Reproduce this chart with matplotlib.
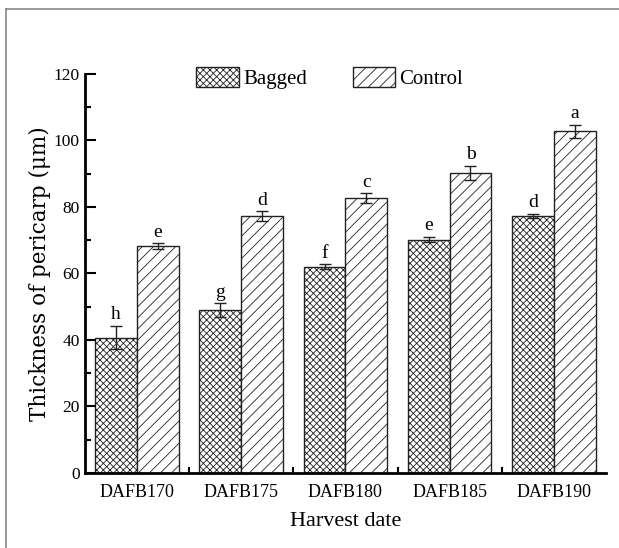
import numpy as np
import matplotlib.pyplot as plt
from matplotlib.lines import Line2D

plt.rcParams['font.family'] = ['Liberation Serif', 'DejaVu Serif']
plt.rcParams['hatch.linewidth'] = 0.6

dates = ['DAFB170', 'DAFB175', 'DAFB180', 'DAFB185', 'DAFB190']
bagged = [40.7, 49.0, 62.0, 70.2, 77.3]
bagged_err = [3.5, 2.0, 0.7, 0.8, 0.6]
bagged_letters = ['h', 'g', 'f', 'e', 'd']
control = [68.2, 77.2, 82.7, 90.2, 102.7]
control_err = [0.9, 1.5, 1.4, 2.1, 2.0]
control_letters = ['e', 'd', 'c', 'b', 'a']

fig = plt.figure(figsize=(6.19, 5.48), dpi=100)
ax = fig.add_axes([0.137, 0.137, 0.842, 0.728])

x = np.arange(len(dates))
w = 0.4
ax.bar(x - w/2, bagged, w, facecolor='white', edgecolor='#222222',
       linewidth=1.0, hatch='xxxxx', label='Bagged')
ax.bar(x + w/2, control, w, facecolor='white', edgecolor='#222222',
       linewidth=1.0, hatch='///', label='Control')
ax.errorbar(x - w/2, bagged, yerr=bagged_err, fmt='none', ecolor='#222222',
            elinewidth=1, capsize=4, capthick=1)
ax.errorbar(x + w/2, control, yerr=control_err, fmt='none', ecolor='#222222',
            elinewidth=1, capsize=4, capthick=1)

for xi, v, e, t in zip(x - w/2, bagged, bagged_err, bagged_letters):
    ax.text(xi, v + e + 0.8, t, ha='center', va='bottom', fontsize=14)
for xi, v, e, t in zip(x + w/2, control, control_err, control_letters):
    ax.text(xi, v + e + 0.8, t, ha='center', va='bottom', fontsize=14)

ax.set_xlim(-0.5, 4.5)
ax.set_ylim(0, 120)
ax.set_yticks(np.arange(0, 121, 20))
ax.set_yticks(np.arange(10, 120, 20), minor=True)
ax.set_xticks(x)
ax.set_xticklabels(dates, fontsize=13)
ax.set_xticks(np.arange(0.5, 4.5, 1), minor=True)
ax.tick_params(axis='x', which='major', length=0, pad=8)
ax.tick_params(axis='x', which='minor', direction='in', length=4, width=1.5)
ax.tick_params(axis='y', which='major', direction='in', length=8, width=1.5, labelsize=12.5)
ax.tick_params(axis='y', which='minor', direction='in', length=4, width=1.5)

for s in ['top', 'right']:
    ax.spines[s].set_visible(False)
for s in ['left', 'bottom']:
    ax.spines[s].set_linewidth(2)

ax.set_xlabel('Harvest date', fontsize=16, labelpad=8)
ax.set_ylabel('Thickness of pericarp (μm)', fontsize=15.5, labelpad=2,
              family=['DejaVu Serif'])

ax.legend(loc='upper center', bbox_to_anchor=(0.47, 1.065), ncol=2, frameon=False,
          fontsize=15, handlelength=2.05, handleheight=1.1, columnspacing=2.2,
          handletextpad=0.2)

# figure border
fig.add_artist(Line2D([6/619, 1], [1 - 9/548, 1 - 9/548], color='#888888', lw=1.2,
                      transform=fig.transFigure))
fig.add_artist(Line2D([6/619, 6/619], [0, 1 - 9/548], color='#888888', lw=1.2,
                      transform=fig.transFigure))

fig.savefig('out.png', dpi=100)
